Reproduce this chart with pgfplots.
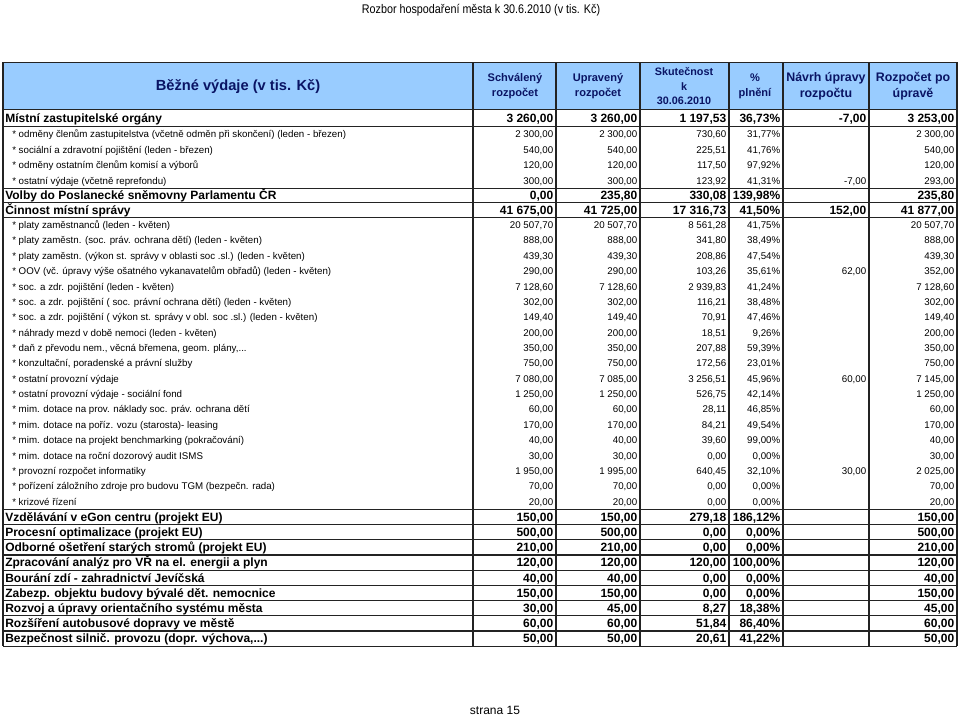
\documentclass[border=0pt]{standalone}
\usepackage{fontspec}
\setmainfont{Liberation Sans}
\newfontfamily\narrowfont[FakeStretch=0.86]{Liberation Sans}
\usepackage{pgfplots}
\usepackage{pgfplotstable}
\pgfplotsset{compat=1.18}

\definecolor{hdrfill}{RGB}{153,204,255}
\definecolor{hdrtext}{RGB}{10,20,100}
\definecolor{gridline}{RGB}{35,35,35}

\newcommand\rowfont{\fontsize{7.3}{8.5}\selectfont}
\newcommand\boldrowfont{\fontsize{9}{10.5}\selectfont\bfseries}

% y = row centre (px from top), t = item, a..f = columns
\pgfplotstableread[col sep=semicolon]{
y;t;a;b;c;d;e;f
133.75;* odměny členům zastupitelstva (včetně odměn při skončení) (leden - březen);2 300,00;2 300,00;730,60;31,77\%;;2 300,00
149.25;* sociální a zdravotní pojištění  (leden - březen);540,00;540,00;225,51;41,76\%;;540,00
164.75;* odměny ostatním členům komisí a výborů;120,00;120,00;117,50;97,92\%;;120,00
180.25;* ostatní výdaje (včetně reprefondu);300,00;300,00;123,92;41,31\%;-7,00;293,00
224.7;* platy zaměstnanců  (leden - květen);20 507,70;20 507,70;8 561,28;41,75\%;;20 507,70
240.1;* platy zaměstn. (soc. práv. ochrana dětí) (leden - květen);888,00;888,00;341,80;38,49\%;;888,00
255.4;* platy zaměstn. (výkon st. správy v oblasti soc .sl.) (leden - květen);439,30;439,30;208,86;47,54\%;;439,30
270.8;* OOV (vč. úpravy výše ošatného vykanavatelům obřadů) (leden - květen);290,00;290,00;103,26;35,61\%;62,00;352,00
286.2;* soc. a zdr. pojištění (leden - květen);7 128,60;7 128,60;2 939,83;41,24\%;;7 128,60
301.5;* soc. a zdr. pojištění ( soc. právní ochrana dětí) (leden - květen);302,00;302,00;116,21;38,48\%;;302,00
316.9;* soc. a zdr. pojištění ( výkon st. správy  v obl. soc .sl.) (leden - květen);149,40;149,40;70,91;47,46\%;;149,40
332.3;* náhrady mezd v době nemoci (leden - květen);200,00;200,00;18,51;9,26\%;;200,00
347.6;* daň z převodu nem., věcná břemena, geom. plány,...;350,00;350,00;207,88;59,39\%;;350,00
363.0;* konzultační, poradenské a právní služby;750,00;750,00;172,56;23,01\%;;750,00
378.4;* ostatní provozní výdaje;7 080,00;7 085,00;3 256,51;45,96\%;60,00;7 145,00
393.8;* ostatní provozní výdaje - sociální fond;1 250,00;1 250,00;526,75;42,14\%;;1 250,00
409.1;* mim. dotace na prov. náklady soc. práv. ochrana dětí;60,00;60,00;28,11;46,85\%;;60,00
424.5;* mim. dotace na poříz. vozu (starosta)- leasing;170,00;170,00;84,21;49,54\%;;170,00
439.9;* mim. dotace na projekt benchmarking (pokračování);40,00;40,00;39,60;99,00\%;;40,00
455.2;* mim. dotace na roční dozorový audit ISMS;30,00;30,00;0,00;0,00\%;;30,00
470.6;* provozní rozpočet informatiky;1 950,00;1 995,00;640,45;32,10\%;30,00;2 025,00
486.0;* pořízení záložního zdroje pro budovu TGM (bezpečn. rada);70,00;70,00;0,00;0,00\%;;70,00
501.3;* krizové řízení;20,00;20,00;0,00;0,00\%;;20,00
}\normalrows

\pgfplotstableread[col sep=semicolon]{
y;t;a;b;c;d;e;f
117.5;Místní zastupitelské orgány;3 260,00;3 260,00;1 197,53;36,73\%;-7,00;3 253,00
195;Volby do Poslanecké sněmovny Parlamentu ČR;0,00;235,80;330,08;139,98\%;;235,80
209.5;Činnost místní správy;41 675,00;41 725,00;17 316,73;41,50\%;152,00;41 877,00
516.6;Vzdělávání v eGon centru  (projekt EU);150,00;150,00;279,18;186,12\%;;150,00
531.8;Procesní optimalizace (projekt EU);500,00;500,00;0,00;0,00\%;;500,00
547.0;Odborné ošetření starých stromů (projekt EU);210,00;210,00;0,00;0,00\%;;210,00
562.2;Zpracování analýz pro VŘ na  el. energii a plyn;120,00;120,00;120,00;100,00\%;;120,00
577.4;Bourání zdí - zahradnictví Jevíčská;40,00;40,00;0,00;0,00\%;;40,00
592.6;Zabezp. objektu budovy bývalé dět. nemocnice;150,00;150,00;0,00;0,00\%;;150,00
607.8;Rozvoj a úpravy orientačního systému města;30,00;45,00;8,27;18,38\%;;45,00
623.0;Rozšíření autobusové dopravy ve městě;60,00;60,00;51,84;86,40\%;;60,00
638.2;Bezpečnost silnič. provozu (dopr. výchova,...);50,00;50,00;20,61;41,22\%;;50,00
}\boldrows

% one column of cells: anchor, font, baseline drop below the row centre
\pgfplotsset{
  cell/.style n args={3}{draw=none, mark=none, nodes near coords,
    point meta=explicit symbolic,
    nodes near coords style={anchor=#1, inner sep=0pt, font=#2, yshift=-#3}},
}

\begin{document}
\begin{tikzpicture}
\begin{axis}[
  width=720pt, height=537.75pt, scale only axis,
  xmin=0, xmax=960, ymin=0, ymax=717, y dir=reverse,
  hide axis, clip=false,
]
\path (0,0) rectangle (960,717);
% header band
\fill[hdrfill] (3,62) rectangle (957,109);

% grid
\pgfplotsinvokeforeach{62,109,126,188,202,217,509,524.2,539.4,554.6,569.8,585,600.2,615.4,630.6,645.8}{
  \draw[gridline, line width=0.9pt] (3,#1) -- (957,#1);
}
\pgfplotsinvokeforeach{3,473,556,640,729,783,869,957}{
  \draw[gridline, line width=0.9pt] (#1,62) -- (#1,645.8);
}

% title, headers, footer
\node[font=\narrowfont\fontsize{9.4}{11}\selectfont] at (481,10) {Rozbor hospodaření města k 30.6.2010 (v tis. Kč)};
\node[font=\fontsize{11}{13}\selectfont\bfseries, text=hdrtext] at (238,86) {Běžné výdaje (v tis. Kč)};
\node[font=\fontsize{8.3}{11.2}\selectfont\bfseries, text=hdrtext, align=center] at (515,86) {Schválený\\rozpočet};
\node[font=\fontsize{8.3}{11.2}\selectfont\bfseries, text=hdrtext, align=center] at (598,86) {Upravený\\rozpočet};
\node[font=\fontsize{8.1}{10.8}\selectfont\bfseries, text=hdrtext, align=center] at (684,86) {Skutečnost\\k\\30.06.2010};
\node[font=\fontsize{8.3}{11.2}\selectfont\bfseries, text=hdrtext, align=center] at (755,86) {\%\\plnění};
\node[font=\fontsize{9.3}{12}\selectfont\bfseries, text=hdrtext, align=center] at (826,86) {Návrh úpravy\\rozpočtu};
\node[font=\fontsize{9.3}{12}\selectfont\bfseries, text=hdrtext, align=center] at (913,86) {Rozpočet po\\úpravě};
\node[font=\fontsize{9}{11}\selectfont] at (495,710) {strana 15};

% normal rows
\addplot[cell={base west}{\rowfont}{2.6pt}] table[x expr=12, y=y, meta=t] {\normalrows};
\addplot[cell={base east}{\rowfont}{2.6pt}] table[x expr=553.5, y=y, meta=a] {\normalrows};
\addplot[cell={base east}{\rowfont}{2.6pt}] table[x expr=637.5, y=y, meta=b] {\normalrows};
\addplot[cell={base east}{\rowfont}{2.6pt}] table[x expr=726.5, y=y, meta=c] {\normalrows};
\addplot[cell={base east}{\rowfont}{2.6pt}] table[x expr=780.5, y=y, meta=d] {\normalrows};
\addplot[cell={base east}{\rowfont}{2.6pt}] table[x expr=866.5, y=y, meta=e] {\normalrows};
\addplot[cell={base east}{\rowfont}{2.6pt}] table[x expr=954.5, y=y, meta=f] {\normalrows};

% bold rows
\addplot[cell={base west}{\boldrowfont}{3.2pt}] table[x expr=5, y=y, meta=t] {\boldrows};
\addplot[cell={base east}{\boldrowfont}{3.2pt}] table[x expr=553.5, y=y, meta=a] {\boldrows};
\addplot[cell={base east}{\boldrowfont}{3.2pt}] table[x expr=637.5, y=y, meta=b] {\boldrows};
\addplot[cell={base east}{\boldrowfont}{3.2pt}] table[x expr=726.5, y=y, meta=c] {\boldrows};
\addplot[cell={base east}{\boldrowfont}{3.2pt}] table[x expr=780.5, y=y, meta=d] {\boldrows};
\addplot[cell={base east}{\boldrowfont}{3.2pt}] table[x expr=866.5, y=y, meta=e] {\boldrows};
\addplot[cell={base east}{\boldrowfont}{3.2pt}] table[x expr=954.5, y=y, meta=f] {\boldrows};
\end{axis}
\end{tikzpicture}
\end{document}
